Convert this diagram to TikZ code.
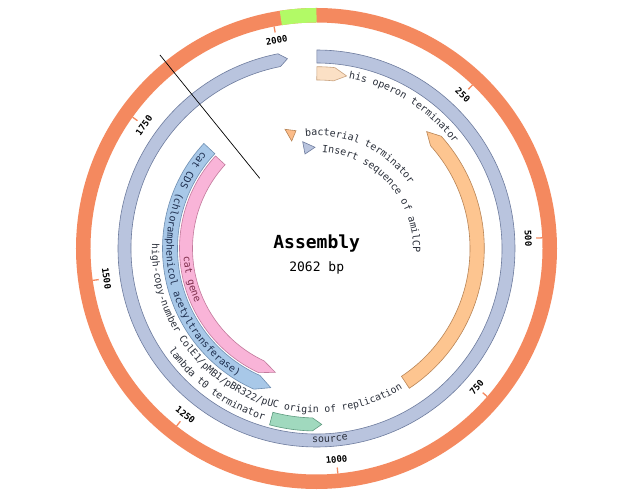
\documentclass[tikz,border=0pt]{standalone}
\usepackage{fontspec}
\setmonofont{DejaVu Sans Mono}
\usetikzlibrary{decorations.text}
\definecolor{ringc}{HTML}{F4895F}
\definecolor{selc}{RGB}{178,250,102}
\definecolor{srcf}{HTML}{B9C4DE}
\definecolor{srcd}{HTML}{6E7C9E}
\definecolor{hisf}{HTML}{FBE0C5}
\definecolor{hisd}{HTML}{C9A27E}
\definecolor{orf}{HTML}{FDC590}
\definecolor{ord}{HTML}{B98556}
\definecolor{cdsf}{HTML}{A8C8E8}
\definecolor{cdsd}{HTML}{6F8FB2}
\definecolor{pkf}{HTML}{F9B4D8}
\definecolor{pkd}{HTML}{C27A9C}
\definecolor{lamf}{HTML}{A0D9BE}
\definecolor{lamd}{HTML}{5F9C80}
\definecolor{txt}{HTML}{2A2F3A}
\definecolor{cdstxt}{HTML}{1F2F4F}
\definecolor{pktxt}{HTML}{7D2C4A}
\newcommand\lblfont{\fontsize{10}{12}\selectfont\ttfamily}
\newcommand\lblsmall{\fontsize{9.8}{11}\selectfont\ttfamily}
\newcommand\featband[6]{%
  \draw[#1] (#2:#6) arc[start angle=#2,end angle=#3,radius=#6] -- (#4:{(#5+#6)/2}) -- (#3:#5) arc[start angle=#3,end angle=#2,radius=#5] -- cycle;}
\tikzset{
  ticklbl/.style={font=\fontsize{9}{10}\selectfont\ttfamily\bfseries, text=black, inner sep=0pt},
  feat/.style={line width=0.6pt},
}
\begin{document}
\begin{tikzpicture}[x=1pt,y=1pt]
\fill[white] (-316.5,-243.5) rectangle (320.5,248.5);
\useasboundingbox (-316.5,-243.5) rectangle (320.5,248.5);
% outer ring
\draw[ringc, line width=14.5pt] (0,0) circle[radius=233.25];
\draw[selc, line width=14.5pt] (90:233.25) arc[start angle=90,end angle=98.8,radius=233.25];
\foreach \bp in {250,500,750,1000,1250,1500,1750,2000} {
  \pgfmathsetmacro\th{\bp/2062*360}
  \pgfmathsetmacro\ang{90-\th}
  \pgfmathsetmacro\rot{\th<90 ? -\th : (\th<270 ? 180-\th : 360-\th)}
  \draw[ringc, line width=1.3pt] (\ang:226) -- (\ang:220);
  \node[ticklbl, rotate=\rot] (t\bp) at (\ang:212) {\bp};
}
% features
\featband{feat, fill=srcf, draw=srcd}{89.9}{-258.8}{-261.3}{185.5}{198.5}
\featband{feat, fill=hisf, draw=hisd}{89.9}{84.2}{80.1}{168.5}{181.8}
\featband{feat, fill=orf, draw=ord}{-56.4}{42}{46.7}{153.5}{167.8}
\featband{feat, fill=cdsf, draw=cdsd}{137}{246}{251.8}{139}{154}
\featband{feat, fill=pkf, draw=pkd}{137.5}{245}{251.6}{124}{137}
\featband{feat, fill=lamf, draw=lamd}{255.1}{268.7}{271.7}{169.5}{182.5}
% labels along the circle (clockwise, tops outward)
\path[decorate, decoration={text along path, text align=left, text={|\lblfont\color{txt}|his operon terminator}}]
  (79.3:173) arc[start angle=79.3,end angle=20,radius=173];
\path[decorate, decoration={text along path, text align=left, text={|\lblfont\color{txt}|bacterial terminator}}]
  (95.7:113) arc[start angle=95.7,end angle=10,radius=113];
\path[decorate, decoration={text along path, text align=left, text={|\lblfont\color{txt}|Insert sequence of amilCP}}]
  (86.8:96.5) arc[start angle=86.8,end angle=-30,radius=96.5];
% labels along the circle (counter-clockwise, tops inward)
\path[decorate, decoration={text along path, text align=left, text={|\lblfont\color{cdstxt}|cat CDS (chloramphenicol acetyltransferase)}}]
  (139.5:150) arc[start angle=139.5,end angle=250,radius=150];
\path[decorate, decoration={text along path, text align=left, text={|\lblfont\color{pktxt}|cat gene}}]
  (183.5:133) arc[start angle=183.5,end angle=215,radius=133];
\path[decorate, decoration={text along path, text align=left, text={|\lblsmall\color{txt}|high-copy-number ColE1/pMB1/pBR322/pUC origin of replication}}]
  (178.3:164.5) arc[start angle=178.3,end angle=320,radius=164.5];
\path[decorate, decoration={text along path, text align=left, text={|\lblfont\color{txt}|lambda t0 terminator}}]
  (214.5:179.5) arc[start angle=214.5,end angle=262,radius=179.5];
\path[decorate, decoration={text along path, text align=left, text={|\lblfont\color{txt}|source}}]
  (268.7:194) arc[start angle=268.7,end angle=285,radius=194];
% legend markers
\draw[feat, fill=orf!85!ringc, draw=ord] (-31.5,119.2) -- (-20.5,117.8) -- (-24.8,107.5) -- cycle;
\draw[feat, fill=srcf, draw=srcd] (-13.8,106.8) -- (-1.5,101.2) -- (-11.5,94.5) -- cycle;
% centre
\node[font=\fontsize{18}{20}\selectfont\ttfamily\bfseries, anchor=base, inner sep=0pt] (title) at (0.2,0.2) {Assembly};
\node[font=\fontsize{13}{15}\selectfont\ttfamily, anchor=base, inner sep=0pt] (size) at (0.2,-23.2) {2062 bp};
% cursor line
\coordinate (cur1) at (128.97:249);
\coordinate (cur2) at (128.97:90.3);
\draw[black, line width=0.7pt] (cur1) -- (cur2);
\end{tikzpicture}
\end{document}
